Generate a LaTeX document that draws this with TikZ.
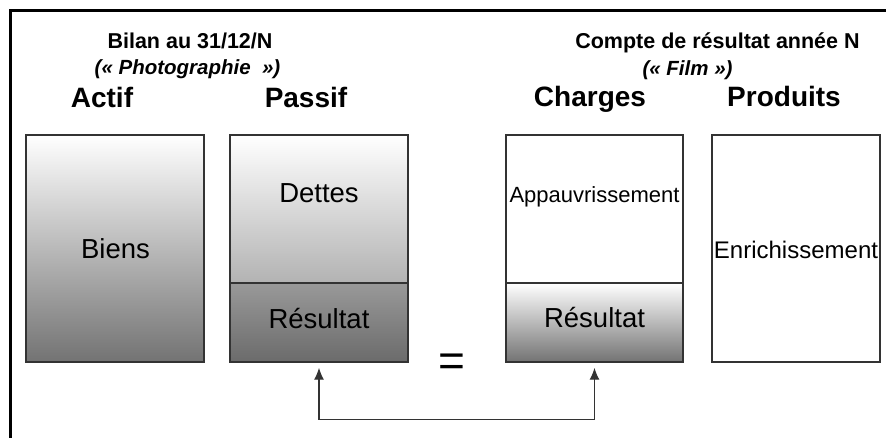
\documentclass[tikz,border=0pt]{standalone}
\usepackage{fontspec}
\setmainfont{Liberation Sans}
\usetikzlibrary{arrows.meta}
\begin{document}
\begin{tikzpicture}[x=1pt,y=-1pt,
  box/.style={draw=black!80, line width=1.4pt, inner sep=0pt},
  head/.style={font=\fontsize{28}{30}\selectfont\bfseries, anchor=base, inner sep=0pt},
  title/.style={font=\fontsize{21.5}{23}\selectfont\bfseries, anchor=base, inner sep=0pt},
  subtitle/.style={font=\fontsize{20.5}{22}\selectfont\bfseries\itshape, anchor=base, inner sep=0pt},
  lbl/.style={font=\fontsize{27.5}{30}\selectfont, anchor=base, inner sep=0pt},
  conn/.style={draw=black!80, line width=1.3pt, {Latex[length=12pt,width=10pt]}-{Latex[length=12pt,width=10pt]}, shorten <=5pt, shorten >=5pt}]
\useasboundingbox (0,0) rectangle (886,437);

% outer frame
\draw[line width=3pt] (10,460) -- (10,10) -- (900,10);

% titles
\node[title] (bilan) at (190,48) {Bilan au 31/12/N};
\node[subtitle] (photo) at (187.5,74) {(«~Photographie~~»)};
\node[title] (compte) at (717.5,48) {Compte de résultat année N};
\node[subtitle] (film) at (687.5,75) {(«~Film~»)};

% column headings
\node[head] (actif) at (102,107) {Actif};
\node[head] (passif) at (306,107) {Passif};
\node[head] (charges) at (590,106) {Charges};
\node[head] (produits) at (784,106) {Produits};

% bilan
\node[box, top color=white, middle color=black!20, bottom color=black!55,
      minimum width=178pt, minimum height=227pt] (biens) at (115,248.5) {};
\node[box, top color=white, bottom color=black!30,
      minimum width=178pt, minimum height=148pt] (dettes) at (319,209) {};
\node[box, top color=black!40, bottom color=black!58,
      minimum width=178pt, minimum height=79pt] (passres) at (319,322.5) {};

% compte de resultat
\node[box, fill=white,
      minimum width=177pt, minimum height=148pt] (appauv) at (594.5,209) {};
\node[box, top color=white, bottom color=black!55,
      minimum width=177pt, minimum height=79pt] (chres) at (594.5,322.5) {};
\node[box, fill=white,
      minimum width=168pt, minimum height=227pt] (enrich) at (796,248.5) {};

% labels
\node[lbl] (tbiens) at (115.5,258) {Biens};
\node[lbl] (tdettes) at (319,202) {Dettes};
\node[lbl] (tpassres) at (319,328) {Résultat};
\node[lbl, font=\fontsize{22}{24}\selectfont] (tappauv) at (594.5,202) {Appauvrissement};
\node[lbl] (tchres) at (594.5,327) {Résultat};
\node[lbl, font=\fontsize{24}{26}\selectfont] (tenrich) at (796,258) {Enrichissement};

% equality
\node[font=\fontsize{46}{48}\selectfont, inner sep=0pt] (eq) at (451.5,365.5) {=};

% link between the two results
\draw[conn] (passres.south) -- ++(0,57) -| (chres.south);
\end{tikzpicture}
\end{document}
